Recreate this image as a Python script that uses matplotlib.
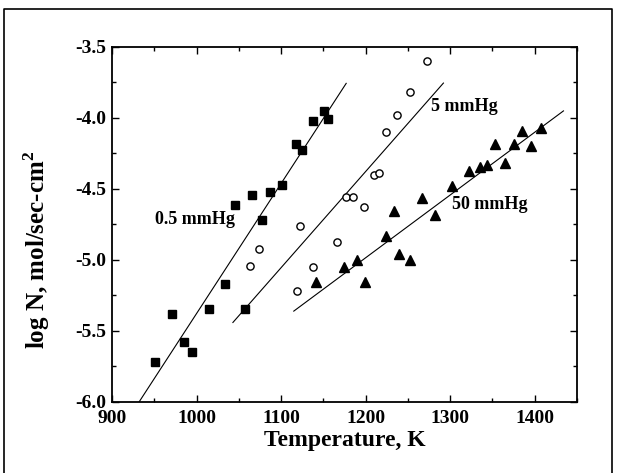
import numpy as np
import matplotlib.pyplot as plt
from matplotlib.ticker import MultipleLocator
from matplotlib.lines import Line2D

plt.rcParams['font.family'] = ['Liberation Serif', 'DejaVu Serif']
plt.rcParams['mathtext.fontset'] = 'custom'
plt.rcParams['mathtext.rm'] = 'Liberation Serif:bold'
plt.rcParams['mathtext.bf'] = 'Liberation Serif:bold'

# 0.5 mmHg (filled squares)
T_05 = [951, 971, 985, 995, 1015, 1034, 1046, 1057, 1066, 1078, 1087,
        1101, 1118, 1125, 1138, 1151, 1156]
logN_05 = [-5.72, -5.38, -5.58, -5.645, -5.345, -5.17, -4.61, -5.345, -4.54,
           -4.72, -4.52, -4.47, -4.18, -4.225, -4.02, -3.95, -4.01]

# 5 mmHg (open circles)
T_5 = [1063, 1074, 1119, 1122, 1138, 1166, 1177, 1185, 1198, 1210, 1216,
       1224, 1237, 1252, 1272]
logN_5 = [-5.04, -4.92, -5.22, -4.76, -5.05, -4.87, -4.555, -4.555, -4.63,
          -4.40, -4.39, -4.10, -3.98, -3.82, -3.60]

# 50 mmHg (filled triangles)
T_50 = [1141, 1174, 1190, 1199, 1224, 1234, 1240, 1252, 1267, 1282, 1302,
        1322, 1335, 1344, 1353, 1365, 1375, 1385, 1396, 1408]
logN_50 = [-5.155, -5.046, -4.998, -5.155, -4.83, -4.657, -4.96, -4.998,
           -4.565, -4.68, -4.48, -4.375, -4.345, -4.33, -4.18, -4.317, -4.18,
           -4.09, -4.196, -4.07]

# fitted lines (end points)
fit_05_T, fit_05_y = [932, 1177], [-6.0, -3.756]
fit_5_T, fit_5_y = [1043, 1292], [-5.44, -3.754]
fit_50_T, fit_50_y = [1115, 1434], [-5.36, -3.95]

fig = plt.figure(figsize=(6.17, 4.73), dpi=100)
ax = fig.add_axes([112/617, 1 - 402/473, 465/617, 355/473])

ax.plot(fit_05_T, fit_05_y, 'k-', lw=0.8)
ax.plot(fit_5_T, fit_5_y, 'k-', lw=0.8)
ax.plot(fit_50_T, fit_50_y, 'k-', lw=0.8)

ax.plot(T_05, logN_05, 'ks', ms=5.8, ls='none')
ax.plot(T_5, logN_5, 'o', ms=5.2, mfc='white', mec='k', mew=1.0, ls='none')
ax.plot(T_50, logN_50, 'k^', ms=7, ls='none')

ax.text(951, -4.715, '0.5 mmHg', fontsize=13, fontweight='bold', va='center', ha='left')
ax.text(1277, -3.92, '5 mmHg', fontsize=13, fontweight='bold', va='center', ha='left')
ax.text(1302, -4.61, '50 mmHg', fontsize=13, fontweight='bold', va='center', ha='left')

ax.set_xlim(900, 1450)
ax.set_ylim(-6.0, -3.5)
ax.xaxis.set_major_locator(MultipleLocator(100))
ax.xaxis.set_minor_locator(MultipleLocator(50))
ax.yaxis.set_major_locator(MultipleLocator(0.5))
ax.yaxis.set_minor_locator(MultipleLocator(0.25))
ax.yaxis.set_major_formatter(plt.FuncFormatter(lambda v, p: f'{v:.1f}'))
ax.tick_params(which='both', direction='in', top=True, right=True, labelsize=14)
ax.tick_params(which='major', length=5, width=1)
ax.tick_params(which='minor', length=3, width=1)
ax.tick_params(axis='y', pad=4)
ax.tick_params(axis='x', pad=6)
for lab in ax.get_xticklabels() + ax.get_yticklabels():
    lab.set_fontweight('bold')
for sp in ax.spines.values():
    sp.set_linewidth(1.3)

ax.set_xlabel('Temperature, K', fontsize=17, fontweight='bold', labelpad=2)
ax.set_ylabel('log N, mol/sec-cm$^{\\mathbf{2}}$', fontsize=18, fontweight='bold')
ax.yaxis.set_label_coords(-0.13, 0.43)

# frame around the whole picture (left, top, right)
fx = [4/617, 4/617, 612/617, 612/617]
fy = [0, 1 - 9/473, 1 - 9/473, 0]
fig.add_artist(Line2D(fx, fy, transform=fig.transFigure, color='k', lw=1.2))

fig.savefig('out.png', dpi=100)
